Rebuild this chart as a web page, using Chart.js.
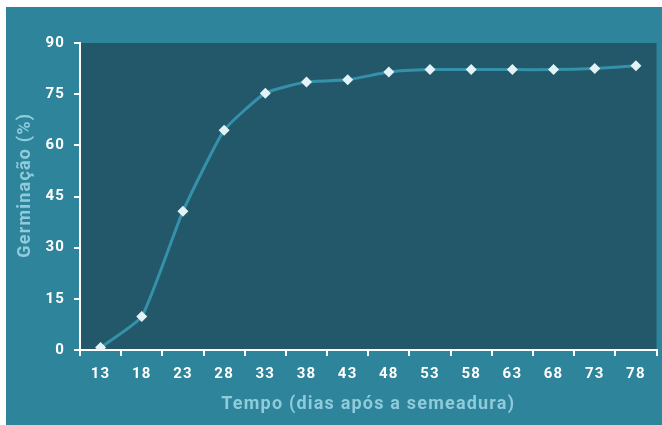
<!DOCTYPE html>
<html>
<head>
<meta charset="utf-8">
<script src="https://cdn.jsdelivr.net/npm/chart.js@4"></script>
<style>
  html, body { margin: 0; padding: 0; background: #ffffff; }
  #wrap { position: absolute; left: 6px; top: 7px; width: 656px; height: 418px; background: #2e849a; }
  canvas { display: block; }
</style>
</head>
<body>
<div id="wrap"><canvas id="chart" width="656" height="418"></canvas></div>
<script>
const dias = ['13', '18', '23', '28', '33', '38', '43', '48', '53', '58', '63', '68', '73', '78'];
const germinacao = [0.7, 9.8, 40.7, 64.4, 75.3, 78.6, 79.2, 81.5, 82.2, 82.2, 82.2, 82.2, 82.5, 83.3];
const yTicks = [0, 15, 30, 45, 60, 75, 90];

// plot area fill + wider tracking for all text
const plotBg = {
    id: 'plotBg',
    beforeDraw(chart) {
        const a = chart.chartArea;
        const ctx = chart.ctx;
        ctx.letterSpacing = '1.2px';
        ctx.save();
        ctx.fillStyle = '#22586a';
        ctx.fillRect(a.left, a.top, a.right - a.left, a.bottom - a.top);
        ctx.restore();
    }
};

const tickFont = { family: 'Roboto', size: 15, weight: 'bold' };
const titleFont = { family: 'Roboto', size: 18, weight: 'bold' };

new Chart(document.getElementById('chart'), {
    type: 'line',
    data: {
        labels: dias,
        datasets: [{
            data: germinacao,
            borderColor: '#3591a9',
            borderWidth: 3,
            tension: 0.15,
            pointStyle: 'rectRot',
            pointRadius: 5.5,
            pointBackgroundColor: '#e2f2f7',
            pointBorderWidth: 0
        }]
    },
    options: {
        responsive: false,
        animation: false,
        layout: { padding: { top: 36, right: 0, left: 0, bottom: 0 } },
        plugins: { legend: { display: false }, tooltip: { enabled: false } },
        scales: {
            x: {
                offset: true,
                grid: { offset: true, drawOnChartArea: false, color: '#ffffff', tickLength: 6, lineWidth: 2 },
                border: { color: '#ffffff', width: 2 },
                ticks: { color: '#ffffff', font: tickFont, padding: 9, maxRotation: 0, autoSkip: false },
                title: { display: true, text: 'Tempo (dias após a semeadura)', color: '#8ecbdb', font: titleFont, padding: { top: 4, bottom: 10 } },
                afterFit(s) { s.height = 75; }
            },
            y: {
                min: 0,
                max: 90,
                afterBuildTicks(s) { s.ticks = yTicks.map(v => ({ value: v })); },
                grid: { drawOnChartArea: false, color: '#ffffff', tickLength: 6, lineWidth: 2 },
                border: { color: '#ffffff', width: 2 },
                ticks: { color: '#ffffff', font: tickFont, padding: 9 },
                // leading spaces nudge the title up a bit, like the original
                title: { display: true, text: '\u00a0\u00a0\u00a0\u00a0Germinação (%)', color: '#8ecbdb', font: titleFont, padding: { top: 9, bottom: 4 } },
                afterFit(s) { s.width = 74; }
            }
        }
    },
    plugins: [plotBg]
});
</script>
</body>
</html>
